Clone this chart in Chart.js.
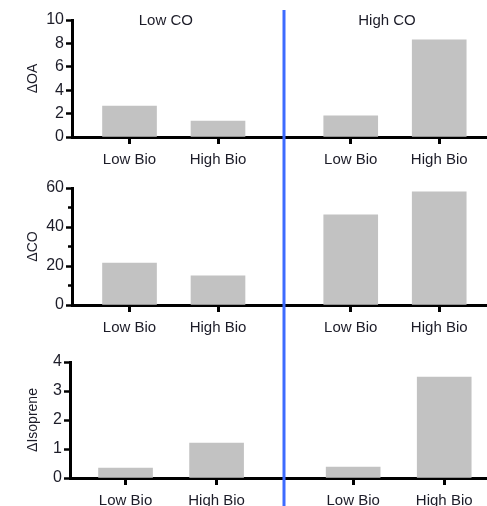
<!DOCTYPE html>
<html>
<head>
<meta charset="utf-8">
<script src="https://cdn.jsdelivr.net/npm/chart.js@4"></script>
<style>
  body { margin: 0; background: #fff; }
  #wrap { position: relative; width: 487px; height: 506px; overflow: hidden; }
  .panel { position: absolute; left: 0; width: 487px; }
</style>
</head>
<body>
<div id="wrap">
  <div class="panel" style="top:0;height:170px"><canvas id="c1"></canvas></div>
  <div class="panel" style="top:170px;height:170px"><canvas id="c2"></canvas></div>
  <div class="panel" style="top:340px;height:166px"><canvas id="c3"></canvas></div>
</div>
<script>
// data
const groups = ['Low CO', 'High CO'];
const bioLabels = ['Low Bio', 'High Bio'];
const deltaOA = [2.65, 1.37, 1.8, 8.3];
const deltaCO = [21.5, 14.9, 46.2, 58];
const deltaIsoprene = [0.34, 1.2, 0.38, 3.48];
const oaTicks = [0, 2, 4, 6, 8, 10];
const coTicks = [0, 20, 40, 60];
const coMinor = [10, 30, 50];
const isoTicks = [0, 1, 2, 3, 4];

// layout: 2 bars per group, groups spaced a bit more apart
const groupGap = 2.5;
const divider = 1.75;
const ink = '#1c1c28';
const fontName = "'Liberation Sans', Arial, sans-serif";

function xOf(i) {
  return Math.floor(i / bioLabels.length) * groupGap + (i % bioLabels.length);
}

// vertical blue line, titles, minor ticks
const extras = {
  id: 'extras',
  afterDraw(chart, args, opts) {
    const ctx = chart.ctx;
    const xs = chart.scales.x, ys = chart.scales.y;
    ctx.save();
    if (opts.titles) {
      ctx.fillStyle = ink;
      ctx.font = '15px ' + fontName;
      ctx.textAlign = 'center';
      ctx.textBaseline = 'middle';
      groups.forEach(function(g, k) {
        let cx = xs.getPixelForValue(k * groupGap + 0.41);
        ctx.fillText(g, cx, chart.chartArea.top + 1);
      });
    }
    if (opts.minor) {
      ctx.strokeStyle = '#000';
      ctx.lineWidth = 2.5;
      opts.minor.forEach(function(v) {
        let py = ys.getPixelForValue(v);
        ctx.beginPath();
        ctx.moveTo(chart.chartArea.left - 4, py);
        ctx.lineTo(chart.chartArea.left, py);
        ctx.stroke();
      });
    }
    // same pixel column in every panel so the line looks continuous
    let lx = Math.floor(xs.getPixelForValue(divider));
    ctx.strokeStyle = '#3d6bff';
    ctx.lineWidth = 3;
    ctx.beginPath();
    ctx.moveTo(lx, opts.lineTop || 0);
    ctx.lineTo(lx, chart.height);
    ctx.stroke();
    ctx.restore();
  }
};

function makePanel(id, values, yTitle, yTicks, cfg) {
  const labelsAll = [];
  groups.forEach(function() { bioLabels.forEach(function(b) { labelsAll.push(b); }); });
  const pts = values.map(function(v, i) { return { x: xOf(i), y: v }; });
  return new Chart(document.getElementById(id), {
    type: 'bar',
    data: {
      datasets: [{
        data: pts,
        backgroundColor: '#c2c2c2',
        borderWidth: 0,
        barThickness: 54
      }]
    },
    options: {
      responsive: true,
      maintainAspectRatio: false,
      animation: false,
      layout: { padding: { top: cfg.top, left: 0, right: 0, bottom: 0 } },
      plugins: {
        legend: { display: false },
        tooltip: { enabled: false },
        extras: { titles: cfg.titles, minor: cfg.minor, lineTop: cfg.lineTop }
      },
      scales: {
        x: {
          type: 'linear',
          offset: false,
          min: cfg.xmin,
          max: cfg.xmax,
          afterBuildTicks: function(s) {
            s.ticks = values.map(function(v, i) { return { value: xOf(i) }; });
          },
          afterFit: function(s) { s.height = cfg.xh; },
          ticks: {
            autoSkip: false,
            maxRotation: 0,
            padding: 7,
            color: ink,
            font: { family: fontName, size: 15 },
            callback: function(v) {
              let i = values.findIndex(function(_, k) { return xOf(k) === v; });
              return i >= 0 ? labelsAll[i] : '';
            }
          },
          grid: { offset: false, drawOnChartArea: false, drawTicks: true, tickLength: 7, tickWidth: 3, tickColor: '#000' },
          border: { display: true, color: '#000', width: 3 }
        },
        y: {
          min: 0,
          max: yTicks[yTicks.length - 1],
          afterBuildTicks: function(s) {
            s.ticks = yTicks.map(function(v) { return { value: v }; });
          },
          afterFit: function(s) { s.width = cfg.yw; },
          title: {
            display: true,
            text: yTitle,
            color: ink,
            font: { family: fontName, size: 14 },
            padding: { top: 25, bottom: 0 }
          },
          ticks: {
            padding: 2,
            color: ink,
            font: { family: fontName, size: 16 }
          },
          grid: { drawOnChartArea: false, drawTicks: true, tickLength: 6, tickWidth: 2.5, tickColor: '#000' },
          border: { display: true, color: '#000', width: 3 }
        }
      }
    },
    plugins: [extras]
  });
}

makePanel('c1', deltaOA, 'ΔOA', oaTicks,
  { top: 20, xh: 33, yw: 72, xmin: -0.65, xmax: 4.04, titles: true, lineTop: 10 });
makePanel('c2', deltaCO, 'ΔCO', coTicks,
  { top: 18, xh: 35, yw: 72, xmin: -0.65, xmax: 4.04, minor: coMinor, lineTop: 0 });
makePanel('c3', deltaIsoprene, 'ΔIsoprene', isoTicks,
  { top: 22, xh: 28, yw: 70, xmin: -0.61, xmax: 3.97, lineTop: 0 });
</script>
</body>
</html>
